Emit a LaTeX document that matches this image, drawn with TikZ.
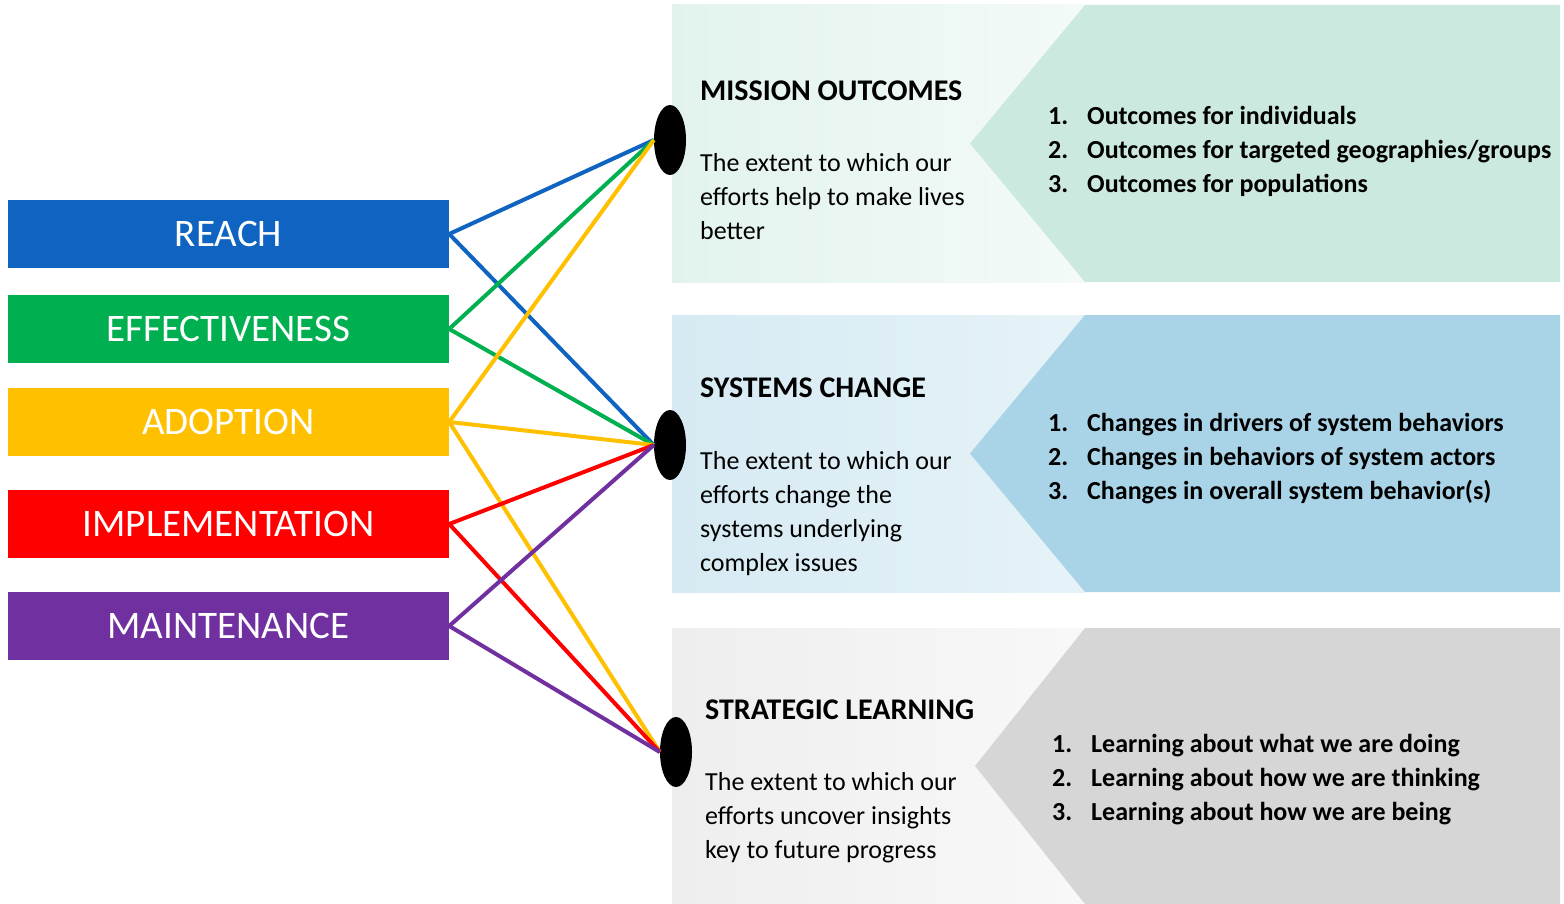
\documentclass[tikz,border=0pt]{standalone}
\usepackage{fontspec}
\setmainfont{Carlito}
\usetikzlibrary{shapes.geometric}
\definecolor{reachblue}{RGB}{14,100,192}
\definecolor{effgreen}{RGB}{0,176,80}
\definecolor{adoptyellow}{RGB}{255,192,0}
\definecolor{implred}{RGB}{255,0,0}
\definecolor{maintpurple}{RGB}{112,48,160}
\definecolor{missionlight}{RGB}{226,243,237}
\definecolor{missiondark}{RGB}{204,233,223}
\definecolor{systemslight}{RGB}{214,234,243}
\definecolor{systemsdark}{RGB}{169,212,232}
\definecolor{learnlight}{RGB}{238,238,238}
\definecolor{learndark}{RGB}{214,214,214}
\newcommand{\itemno}[1]{\makebox[39pt][l]{#1}}
\tikzset{
  barbox/.style={fill=#1, minimum width=441pt, minimum height=68pt, inner sep=0pt,
    text=white, font=\fontsize{39}{42}\selectfont},
  hubdot/.style={ellipse, fill=black, minimum width=32pt, minimum height=70pt, inner sep=0pt},
  link/.style={line width=4pt},
  headtext/.style={anchor=base west, inner sep=0pt, font=\fontsize{30}{34}\bfseries\selectfont},
  bodytext/.style={anchor=base west, inner sep=0pt, align=left, font=\fontsize{26}{34}\selectfont},
  itemtext/.style={anchor=base west, inner sep=0pt, font=\fontsize{26}{34}\bfseries\selectfont}
}
\begin{document}
\begin{tikzpicture}[x=1pt, y=-1pt]
			%%%%% START %%%%%
			\useasboundingbox (0,0) rectangle (1564,904);
			\fill[white] (0,0) rectangle (1564,904);
			
			% panels
			\shade[left color=missionlight, right color=missionlight!40] (672,5) rectangle (1085,282);
			\fill[missiondark] (1085,5) -- (1560,5) -- (1560,282) -- (1085,282) -- (970,143.5) -- cycle;
			\shade[left color=systemslight, right color=systemslight!60] (672,315) rectangle (1085,592);
			\fill[systemsdark] (1085,315) -- (1560,315) -- (1560,592) -- (1085,592) -- (970,453.5) -- cycle;
			\shade[left color=learnlight, right color=learnlight!40] (672,628) rectangle (1085,904);
			\fill[learndark] (1085,628) -- (1560,628) -- (1560,904) -- (1085,904) -- (975,766) -- cycle;
			
			% bars
			\node[barbox=reachblue] (reach) at (228.5,234) {REACH};
			\node[barbox=effgreen] (effect) at (228.5,329) {EFFECTIVENESS};
			\node[barbox=adoptyellow] (adopt) at (228.5,422) {ADOPTION};
			\node[barbox=implred] (implem) at (228.5,524) {IMPLEMENTATION};
			\node[barbox=maintpurple] (maint) at (228.5,626) {MAINTENANCE};
			
			% hubs
			\node[hubdot] (mission) at (670,140) {};
			\node[hubdot] (systems) at (670,445) {};
			\node[hubdot] (learning) at (676,752) {};
			
			\draw[link, reachblue] (reach.east) -- (mission.west);
			\draw[link, reachblue] (reach.east) -- (systems.west);
			\draw[link, effgreen] (effect.east) -- (mission.west);
			\draw[link, effgreen] (effect.east) -- (systems.west);
			\draw[link, adoptyellow] (adopt.east) -- (mission.west);
			\draw[link, adoptyellow] (adopt.east) -- (systems.west);
			\draw[link, adoptyellow] (adopt.east) -- (learning.west);
			\draw[link, implred] (implem.east) -- (systems.west);
			\draw[link, implred] (implem.east) -- (learning.west);
			\draw[link, maintpurple] (maint.east) -- (systems.west);
			\draw[link, maintpurple] (maint.east) -- (learning.west);
			
			% mission outcomes
			\node[headtext] (missionhead) at (700,101) {MISSION OUTCOMES};
			\node[bodytext] (missionbody) at (700,240) {The extent to which our\\efforts help to make lives\\better};
			\node[itemtext] (missionone) at (1048,125) {\itemno{1.}Outcomes for individuals};
			\node[itemtext] (missiontwo) at (1048,159) {\itemno{2.}Outcomes for targeted geographies/groups};
			\node[itemtext] (missionthree) at (1048,193) {\itemno{3.}Outcomes for populations};
			
			% systems change
			\node[headtext] (systemshead) at (700,397) {SYSTEMS CHANGE};
			\node[bodytext] (systemsbody) at (700,571) {The extent to which our\\efforts change the\\systems underlying\\complex issues};
			\node[itemtext] (systemsone) at (1048,431) {\itemno{1.}Changes in drivers of system behaviors};
			\node[itemtext] (systemstwo) at (1048,465) {\itemno{2.}Changes in behaviors of system actors};
			\node[itemtext] (systemsthree) at (1048,499) {\itemno{3.}Changes in overall system behavior(s)};
			
			% strategic learning
			\node[headtext] (learnhead) at (705,719) {STRATEGIC LEARNING};
			\node[bodytext] (learnbody) at (705,858) {The extent to which our\\efforts uncover insights\\key to future progress};
			\node[itemtext] (learnone) at (1052,752) {\itemno{1.}Learning about what we are doing};
			\node[itemtext] (learntwo) at (1052,786) {\itemno{2.}Learning about how we are thinking};
			\node[itemtext] (learnthree) at (1052,820) {\itemno{3.}Learning about how we are being};
			%%%%% END %%%%%
\end{tikzpicture}
\end{document}
